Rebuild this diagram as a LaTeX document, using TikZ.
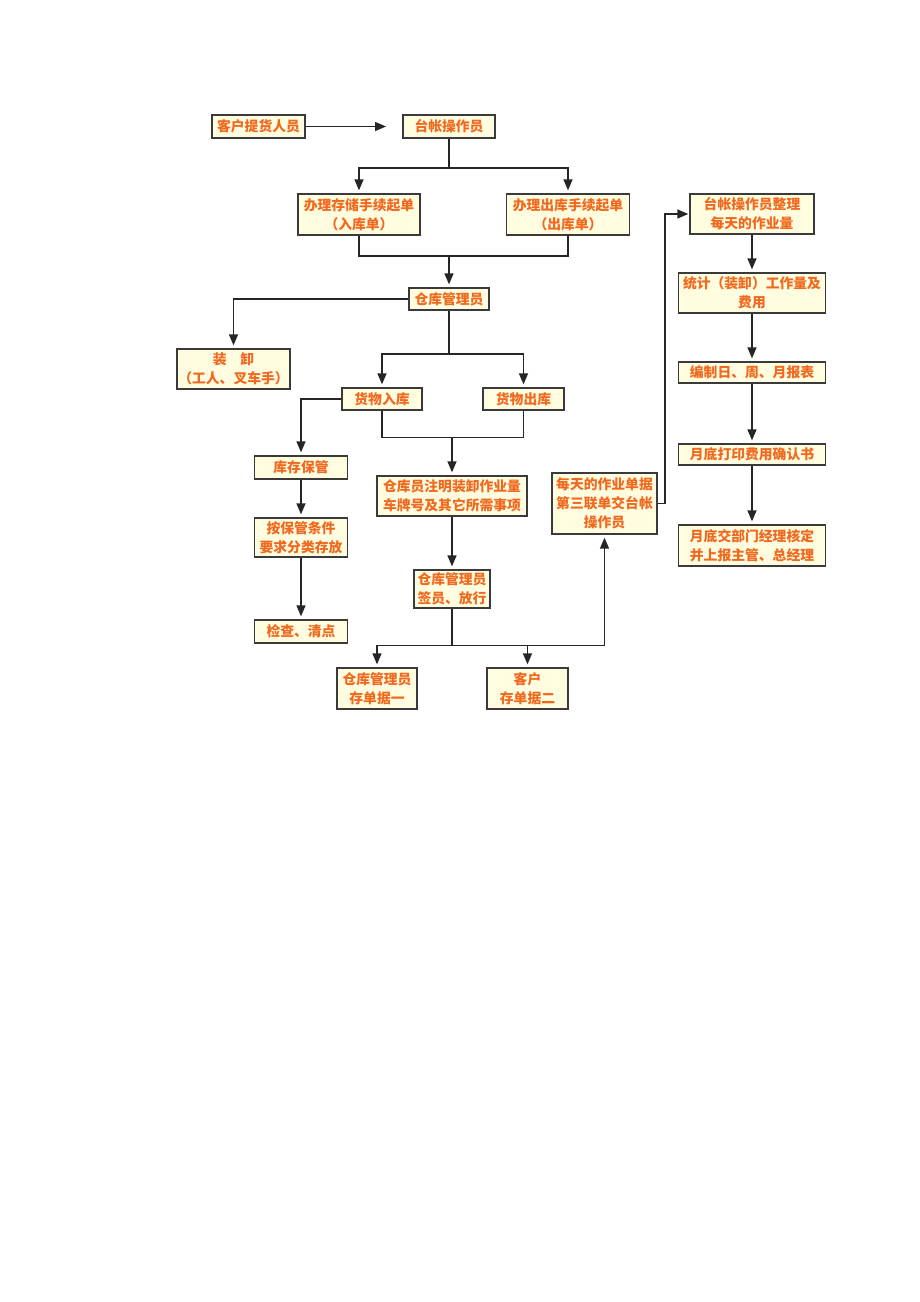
\documentclass[tikz,border=0pt]{standalone}
\usepackage{fontspec}
\setmainfont{Noto Sans CJK SC}
\usepackage{xcolor}
\usetikzlibrary{arrows.meta}
\definecolor{boxfill}{HTML}{FFFCE0}
\definecolor{boxtext}{HTML}{F0691E}
\definecolor{boxline}{HTML}{3A3A3A}
\tikzset{
  box/.style={draw=boxline, line width=1.3pt, fill=boxfill, text=boxtext, inner sep=1pt,
    align=center, font=\fontsize{13.8}{19}\selectfont\bfseries},
  link/.style={draw=black!85, line width=1.4pt},
  arr/.style={link, -{Triangle[length=11pt,width=9pt]}, shorten >=3pt}
}
\begin{document}
\begin{tikzpicture}[x=1pt,y=1pt,yscale=-1,xscale=1]
        \fill[white] (0,0) rectangle (920,1302);
        \useasboundingbox (0,0) rectangle (920,1302);

        \node[box, minimum width=93, minimum height=23] (kehu) at (258.5,126.5) {客户提货人员};
        \node[box, minimum width=92, minimum height=23] (taizhang) at (449,126.5) {台帐操作员};
        \node[box, minimum width=122, minimum height=41] (rukudan) at (359,214.5) {办理存储手续起单\\（入库单）};
        \node[box, minimum width=123, minimum height=41] (chukudan) at (568,214.5) {办理出库手续起单\\（出库单）};
        \node[box, minimum width=80, minimum height=22] (guanli) at (449,299) {仓库管理员};
        \node[box, minimum width=113, minimum height=40] (zhuangxie) at (233.5,369) {装　卸\\（工人、叉车手）};
        \node[box, minimum width=80, minimum height=22] (huoru) at (382,399) {货物入库};
        \node[box, minimum width=81, minimum height=22] (huochu) at (523.5,399) {货物出库};
        \node[box, minimum width=93, minimum height=23] (kucun) at (301,467.5) {库存保管};
        \node[box, minimum width=93, minimum height=39] (fenlei) at (301,537.5) {按保管条件\\要求分类存放};
        \node[box, minimum width=93, minimum height=23] (jiancha) at (301,631.5) {检查、清点};
        \node[box, minimum width=150, minimum height=40] (zhuming) at (452,496) {仓库员注明装卸作业量\\车牌号及其它所需事项};
        \node[box, minimum width=76, minimum height=38] (fangxing) at (452,589) {仓库管理员\\签员、放行};
        \node[box, minimum width=80, minimum height=41] (cundanyi) at (377,688.5) {仓库管理员\\存单据一};
        \node[box, minimum width=81, minimum height=41] (cundaner) at (527.5,688.5) {客户\\存单据二};
        \node[box, minimum width=105, minimum height=61] (meitian) at (604.5,503.5) {每天的作业单据\\第三联单交台帐\\操作员};
        \node[box, minimum width=124, minimum height=40] (zhengli) at (752,214) {台帐操作员整理\\每天的作业量};
        \node[box, minimum width=147, minimum height=40] (tongji) at (752,293) {统计（装卸）工作量及\\费用};
        \node[box, minimum width=147, minimum height=21] (bianzhi) at (752,372.5) {编制日、周、月报表};
        \node[box, minimum width=147, minimum height=21] (dayin) at (752,454.5) {月底打印费用确认书};
        \node[box, minimum width=147, minimum height=41] (hedingg) at (752,545.5) {月底交部门经理核定\\并上报主管、总经理};

        \coordinate (tzin) at (386,126.5);
        \coordinate (fork1) at (449,168);
        \coordinate (join1) at (449,256);
        \coordinate (fork2) at (449,354);
        \coordinate (join2) at (452,437.5);
        \coordinate (fork3) at (452,645.5);
        \coordinate (turn) at (665,503.5);

        \draw[arr, shorten >=0pt] (kehu) -- (tzin);
        \draw[link] (taizhang) -- (fork1);
        \draw[arr] (fork1) -| (rukudan);
        \draw[arr] (fork1) -| (chukudan);
        \draw[link] (rukudan) |- (join1);
        \draw[link] (chukudan) |- (join1);
        \draw[arr] (join1) -- (guanli);
        \draw[arr] (guanli) -| (zhuangxie);
        \draw[link] (guanli) -- (fork2);
        \draw[arr] (fork2) -| (huoru);
        \draw[arr] (fork2) -| (huochu);
        \draw[arr] (huoru) -| (kucun);
        \draw[link] (huoru) |- (join2);
        \draw[link] (huochu) |- (join2);
        \draw[arr] (join2) -- (zhuming);
        \draw[arr] (kucun) -- (fenlei);
        \draw[arr] (fenlei) -- (jiancha);
        \draw[arr] (zhuming) -- (fangxing);
        \draw[link] (fangxing) -- (fork3);
        \draw[arr] (fork3) -| (cundanyi);
        \draw[arr] (fork3) -| (cundaner);
        \draw[arr] (fork3) -| (meitian);
        \draw[arr, shorten >=1pt] (meitian) -- (turn) |- (zhengli);
        \draw[arr] (zhengli) -- (tongji);
        \draw[arr] (tongji) -- (bianzhi);
        \draw[arr] (bianzhi) -- (dayin);
        \draw[arr] (dayin) -- (hedingg);
\end{tikzpicture}
\end{document}
